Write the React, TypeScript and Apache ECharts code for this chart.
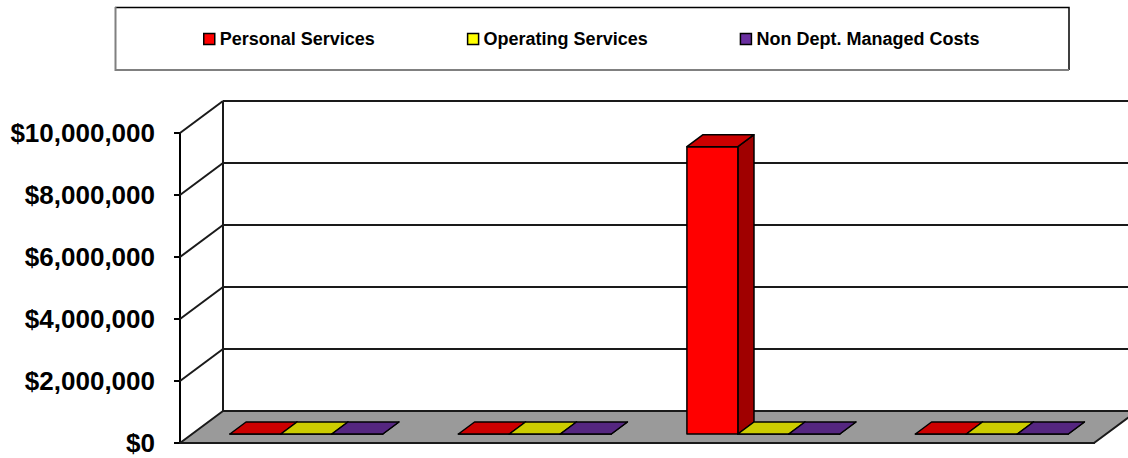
import React, { useEffect, useRef } from "react";
import * as echarts from "echarts";

// ---- data ----
const categories = ["Group 1", "Group 2", "Group 3", "Group 4"];
const seriesNames = ["Personal Services", "Operating Services", "Non Dept. Managed Costs"];
const personalServices = [0, 0, 9270000, 0];
const operatingServices = [0, 0, 0, 0];
const nonDeptManagedCosts = [0, 0, 0, 0];
const yTicks = [0, 2000000, 4000000, 6000000, 8000000, 10000000];

// ---- styling ----
const FONT = "'Liberation Sans', Arial, Helvetica, sans-serif";
const palettes = [
  { front: "#FF0000", top: "#CC0000", side: "#A00000" },
  { front: "#FFFF00", top: "#CCCC00", side: "#A0A000" },
  { front: "#6A2FA0", top: "#552680", side: "#421D63" },
];
const DX = 43; // floor depth, px (horizontal)
const DY = 32; // floor depth, px (vertical)
const BAR_FRONT = 9 / 32;
const BAR_BACK = 21 / 32;

function barRenderer(sIdx: number) {
  const c = palettes[sIdx];
  return (params: any, api: any) => {
    const i = api.value(0);
    const v = api.value(1);
    const top = api.coord([i, v]);
    const base = api.coord([i, 0]);
    const band = api.size([1, 0])[0];
    const bw = band * 0.223;
    const fx = DX * BAR_FRONT;
    const fy = DY * BAR_FRONT;
    const bdx = DX * (BAR_BACK - BAR_FRONT);
    const bdy = DY * (BAR_BACK - BAR_FRONT);
    const x0 = top[0] - 1.5 * bw + sIdx * bw + fx;
    const yT = top[1] - fy;
    const yB = base[1] - fy;
    const st = { stroke: "#000", lineWidth: 1.5, lineJoin: "round" };
    return {
      type: "group",
      children: [
        {
          type: "polygon",
          shape: { points: [[x0 + bw, yT], [x0 + bw, yB], [x0 + bw + bdx, yB - bdy], [x0 + bw + bdx, yT - bdy]] },
          style: { fill: c.side, ...st },
        },
        {
          type: "rect",
          shape: { x: x0, y: yT, width: bw, height: yB - yT },
          style: { fill: c.front, ...st },
        },
        {
          type: "polygon",
          shape: { points: [[x0, yT], [x0 + bw, yT], [x0 + bw + bdx, yT - bdy], [x0 + bdx, yT - bdy]] },
          style: { fill: c.top, ...st },
        },
      ],
    };
  };
}

function frameRenderer(params: any, api: any) {
  const v = api.value(1);
  const cs = params.coordSys;
  const y = api.coord([0, v])[1];
  const yBase = api.coord([0, 0])[1];
  const x0 = cs.x;
  const x1 = cs.x + cs.width;
  const line = { stroke: "#1a1a1a", lineWidth: 2 };
  const children: any[] = [];
  if (v === 0) {
    children.push({
      type: "polygon",
      shape: { points: [[x0, y], [x1, y], [x1 + DX, y - DY], [x0 + DX, y - DY]] },
      style: { fill: "#9A9A9A", stroke: "#1a1a1a", lineWidth: 2, lineJoin: "round" },
    });
  } else {
    children.push({ type: "line", shape: { x1: x0, y1: y, x2: x0 + DX, y2: y - DY }, style: line });
    children.push({ type: "line", shape: { x1: x0 + DX, y1: y - DY, x2: x1 + DX + 30, y2: y - DY }, style: line });
  }
  if (v === yTicks[yTicks.length - 1]) {
    children.push({ type: "line", shape: { x1: x0 + DX, y1: y - DY, x2: x0 + DX, y2: yBase - DY }, style: line });
  }
  return { type: "group", children };
}

export default function App() {
  const ref = useRef<HTMLDivElement>(null);
  useEffect(() => {
    if (!ref.current) return;
    const chart = echarts.init(ref.current, undefined, { renderer: "svg" });
    const allSeries = [personalServices, operatingServices, nonDeptManagedCosts];
    chart.setOption({
      animation: false,
      backgroundColor: "#fff",
      textStyle: { fontFamily: FONT },
      grid: { left: 180, right: 34, top: 133, bottom: 15, containLabel: false },
      legend: {
        data: seriesNames,
        left: 203,
        top: 30,
        padding: 0,
        itemGap: 92,
        itemWidth: 11,
        itemHeight: 11,
        icon: "rect",
        selectedMode: false,
        itemStyle: { borderColor: "#000", borderWidth: 1.5 },
        textStyle: { fontFamily: FONT, fontWeight: "bold", fontSize: 18, color: "#000" },
      },
      graphic: [
        { type: "rect", shape: { x: 115, y: 7, width: 954, height: 63 }, style: { fill: "#fff" }, z: -1 },
        { type: "polyline", shape: { points: [[115, 7.5], [1069, 7.5], [1069, 70]] }, style: { stroke: "#000", lineWidth: 1.5, fill: null } },
        { type: "polyline", shape: { points: [[115.5, 7], [115.5, 70], [1069, 70]] }, style: { stroke: "#808080", lineWidth: 2, fill: null } },
      ],
      xAxis: {
        type: "category",
        data: categories,
        boundaryGap: true,
        axisLine: { show: true, lineStyle: { color: "#000", width: 2 } },
        axisTick: { show: false },
        axisLabel: { show: false },
        splitLine: { show: false },
      },
      yAxis: {
        type: "value",
        min: yTicks[0],
        max: yTicks[yTicks.length - 1],
        interval: yTicks[1] - yTicks[0],
        axisLine: { show: true, lineStyle: { color: "#000", width: 2 } },
        axisTick: { show: true, length: 6, lineStyle: { color: "#000", width: 2 } },
        splitLine: { show: false },
        axisLabel: {
          margin: 25,
          fontFamily: FONT,
          fontWeight: "bold",
          fontSize: 26,
          color: "#000",
          formatter: (v: number) => "$" + v.toLocaleString("en-US"),
        },
      },
      series: [
        {
          type: "custom",
          name: "frame",
          z: 1,
          silent: true,
          renderItem: frameRenderer,
          encode: { x: 0, y: 1 },
          data: yTicks.map((v) => [0, v]),
        },
        ...allSeries.map((vals, s) => ({
          type: "custom",
          name: seriesNames[s],
          z: 2,
          itemStyle: { color: palettes[s].front },
          renderItem: barRenderer(s),
          encode: { x: 0, y: 1 },
          data: vals.map((v, i) => [i, v]),
        })),
      ],
    });
    return () => chart.dispose();
  }, []);
  return <div ref={ref} style={{ position: "absolute", left: 0, top: 0, width: 1128, height: 458 }} />;
}
